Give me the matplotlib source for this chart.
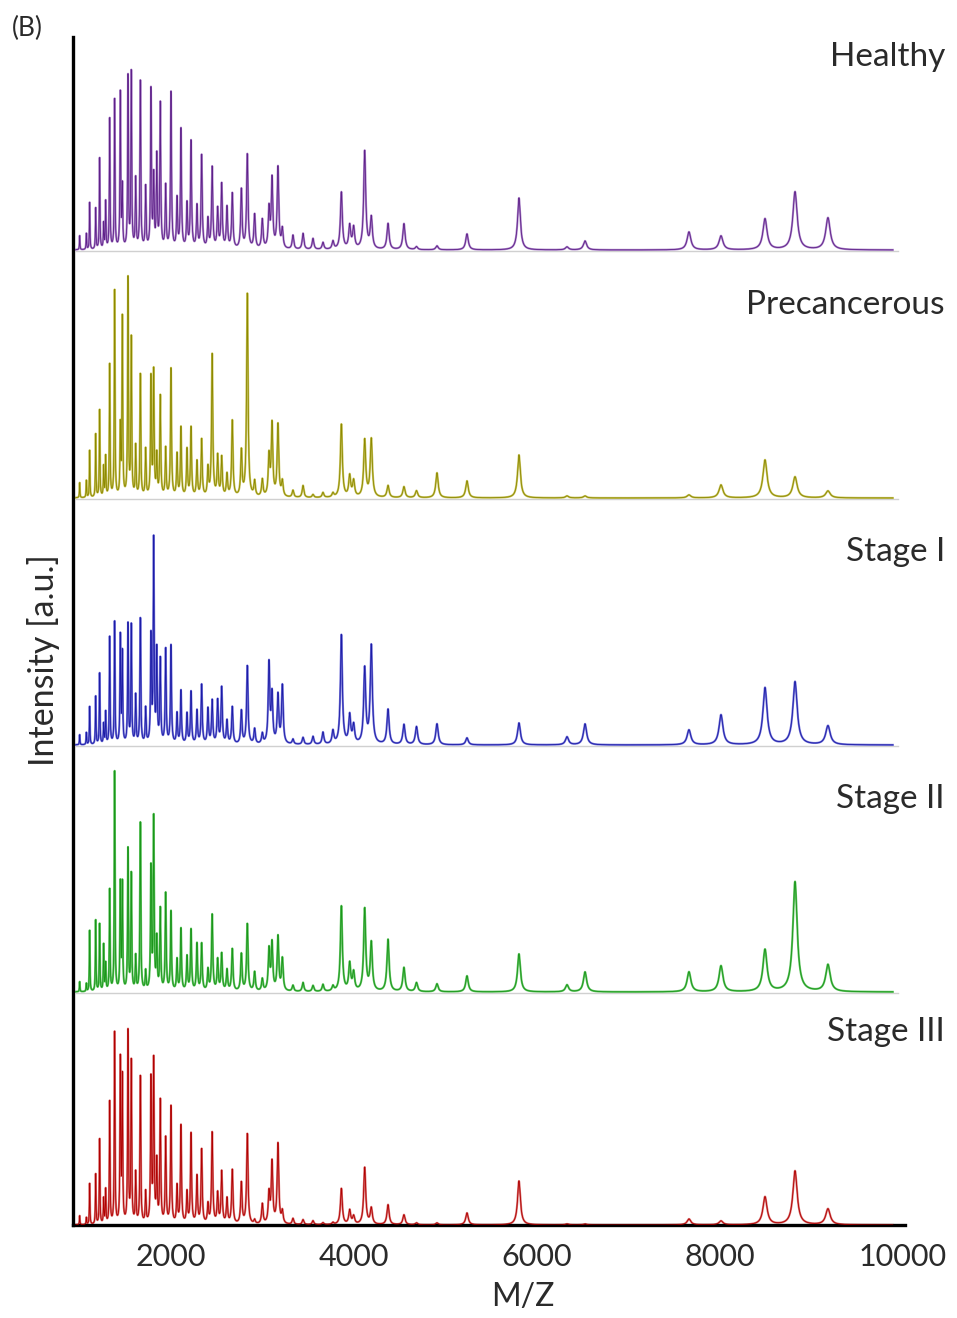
import numpy as np
import matplotlib.pyplot as plt
from matplotlib.transforms import blended_transform_factory

# ==================== DATA (peak list, m/z and intensity per group) ====================
mz_peaks = [1002, 1075, 1111, 1177, 1220, 1264, 1286, 1330, 1384, 1446,
            1468, 1530, 1566, 1614, 1665, 1723, 1781, 1811, 1845, 1883,
            1942, 2000, 2066, 2109, 2175, 2219, 2284, 2335, 2404, 2450,
            2510, 2554, 2612, 2670, 2769, 2834, 2914, 2998, 3071, 3104,
            3169, 3217, 3333, 3443, 3552, 3661, 3770, 3862, 3953, 3996,
            4117, 4189, 4372, 4546, 4683, 4907, 5235, 5803, 6328, 6525,
            7661, 8011, 8492, 8820, 9180]

healthy = [14, 16, 47, 41, 91, 25, 47, 130, 149, 155,
           60, 171, 175, 69, 167, 61, 158, 70, 91, 144,
           62, 156, 49, 119, 44, 107, 42, 93, 29, 81,
           39, 64, 41, 55, 59, 94, 34, 29, 39, 69,
           81, 19, 14, 16, 11, 7, 8, 57, 23, 21,
           98, 31, 26, 26, 3, 4, 16, 52, 3, 9,
           18, 14, 31, 58, 32]

precancerous = [15, 17, 47, 63, 87, 30, 40, 132, 206, 68,
                178, 217, 157, 50, 122, 47, 118, 124, 40, 100,
                48, 128, 42, 69, 47, 69, 35, 57, 28, 142,
                40, 39, 22, 76, 45, 203, 15, 17, 40, 72,
                72, 15, 7, 12, 3, 5, 4, 73, 21, 16,
                57, 58, 12, 11, 7, 25, 17, 43, 2, 2,
                3, 13, 38, 21, 7]

stage1 = [10, 12, 38, 48, 71, 20, 32, 107, 122, 107,
          90, 119, 118, 48, 125, 35, 105, 202, 91, 83,
          94, 98, 30, 53, 30, 52, 33, 59, 35, 43,
          43, 56, 23, 37, 33, 78, 15, 10, 80, 48,
          48, 58, 5, 7, 8, 12, 13, 109, 28, 18,
          75, 98, 35, 20, 18, 21, 7, 22, 8, 21,
          15, 30, 57, 63, 19]

stage2 = [10, 8, 61, 71, 67, 46, 27, 101, 219, 106,
          106, 141, 116, 34, 168, 19, 121, 171, 50, 81,
          97, 79, 31, 62, 34, 61, 47, 47, 21, 76,
          31, 37, 21, 42, 37, 67, 19, 12, 41, 47,
          54, 32, 6, 9, 6, 7, 5, 85, 27, 18,
          82, 48, 52, 24, 9, 8, 16, 38, 7, 20,
          20, 26, 42, 110, 27]

stage3 = [9, 7, 41, 50, 85, 25, 34, 122, 191, 162,
          144, 191, 161, 50, 147, 31, 143, 161, 60, 122,
          85, 117, 37, 98, 31, 90, 47, 74, 19, 91,
          30, 52, 25, 54, 41, 90, 4, 20, 30, 61,
          80, 12, 6, 5, 4, 2, 2, 36, 14, 8,
          57, 16, 20, 10, 2, 2, 12, 44, 1, 1,
          6, 4, 28, 54, 16]

groups = ["Healthy", "Precancerous", "Stage I", "Stage II", "Stage III"]
spectra = [healthy, precancerous, stage1, stage2, stage3]
light_colors = ["#ad86c9", "#c9c35c", "#7474d8", "#62c462", "#d97070"]
dark_colors = ["#5e2089", "#8c8900", "#1c1ca6", "#1a961a", "#b00000"]

# vertical stacking of the traces (layout)
offsets = [975, 727, 480, 233, 0]

# ==================== FIGURE ====================
fig = plt.figure(figsize=(9.57, 13.18), dpi=100)
ax = fig.add_axes([73 / 957, 93 / 1318, 832 / 957, 1188 / 1318])

grid = np.arange(960, 9890, 1.0)
font = dict(family="Lato", color="#2a2a2a")
trans = blended_transform_factory(ax.transAxes, ax.transData)

for i, (name, heights) in enumerate(zip(groups, spectra)):
    off = offsets[i]
    m = np.array(mz_peaks, dtype=float)[:, None]
    h = np.array(heights, dtype=float)[:, None]
    gam = 0.0032 * m
    y = (h * gam ** 2 / ((grid[None, :] - m) ** 2 + gam ** 2)).sum(axis=0)
    if off > 0:
        ax.plot([grid[0], grid[-1] + 60], [off - 1, off - 1], color="#d0d0d0", lw=1.0, zorder=1)
    ax.plot(grid, off + y, color=light_colors[i], lw=1.5, zorder=2)
    ax.plot(grid, off + y, color=dark_colors[i], lw=0.6, zorder=3)

    ax.text(1.048, off + 193, name, transform=trans, ha="right", va="center",
            fontsize=24, clip_on=False, **font)

ax.set_xlim(929, 10022)
ax.set_ylim(0, 1188)
ax.set_xticks([2000, 4000, 6000, 8000, 10000])
ax.set_xticklabels(["2000", "4000", "6000", "8000", "10000"], fontsize=22, **font)
ax.set_yticks([])
ax.tick_params(axis="x", length=0, pad=13)

for s in ["top", "right"]:
    ax.spines[s].set_visible(False)
for s in ["left", "bottom"]:
    ax.spines[s].set_linewidth(2.4)
    ax.spines[s].set_color("black")

fig.text(523 / 957, 1 - 1297 / 1318, "M/Z", ha="center", va="center",
         fontsize=23, **font)
fig.text(44 / 957, 1 - 660 / 1318, "Intensity [a.u.]", ha="center", va="center",
         rotation=90, fontsize=24.5, **font)
fig.text(27 / 957, 1 - 28 / 1318, "(B)", ha="center", va="center",
         fontsize=19, **font)

fig.savefig("out.png", dpi=100)
